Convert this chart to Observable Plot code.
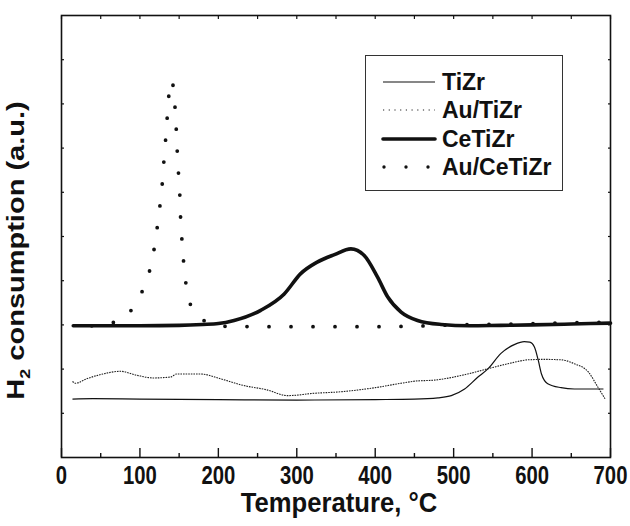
<!DOCTYPE html>
<html><head><meta charset="utf-8">
<script src="https://cdn.jsdelivr.net/npm/d3@7"></script>
<script src="https://cdn.jsdelivr.net/npm/@observablehq/plot@0.6"></script>
<style>
body{margin:0;background:#fff;}
#wrap{position:relative;width:630px;height:526px;}
#legend{position:absolute;left:365px;top:55px;width:198px;height:136px;border:1.3px solid #333;box-sizing:border-box;background:#fff;}
#legend svg{position:absolute;left:0;top:0;}
</style>
</head><body>
<div id="wrap"><div id="legend"></div></div>
<script>
// ---- data (temperature °C, H2 consumption a.u.) ----
const tizrT = [14, 40, 100, 200, 300, 400, 450, 480, 497, 514, 531, 544, 560, 578, 590, 597, 603, 608, 612, 620, 637, 654, 691];
const tizrV = [1.32, 1.33, 1.32, 1.31, 1.30, 1.31, 1.32, 1.35, 1.40, 1.55, 1.82, 2.01, 2.35, 2.56, 2.62, 2.61, 2.50, 2.19, 1.89, 1.67, 1.58, 1.55, 1.55];

const auTizrT = [14, 18, 32, 53, 75, 96, 117, 139, 147, 177, 203, 232, 262, 288, 300, 314, 358, 400, 433, 452, 475, 518, 544, 569, 595, 615, 637, 654, 672, 684, 693];
const auTizrV = [1.72, 1.68, 1.78, 1.89, 1.95, 1.86, 1.80, 1.82, 1.89, 1.89, 1.78, 1.63, 1.53, 1.40, 1.41, 1.44, 1.49, 1.58, 1.68, 1.73, 1.75, 1.89, 2.01, 2.12, 2.21, 2.22, 2.21, 2.12, 1.93, 1.59, 1.33];

const ceTizrT = [15, 50, 100, 150, 180, 200, 220, 254, 284, 305, 326, 348, 369, 386, 403, 416, 433, 454, 484, 520, 560, 600, 650, 700];
const ceTizrV = [2.98, 2.98, 2.98, 2.99, 3.01, 3.03, 3.10, 3.33, 3.70, 4.16, 4.42, 4.59, 4.72, 4.57, 4.08, 3.63, 3.29, 3.10, 3.01, 2.98, 2.99, 3.00, 3.02, 3.04];

const auCeTizrT = [15, 50, 76, 90.5, 102, 111, 117, 121, 124.7, 128, 130, 132.4, 134.5, 136.6, 139.5, 142.2, 144.8, 146.4, 147.7, 149.4, 151.2, 152, 154, 156.3, 159.2, 165.2, 178.4, 200, 250, 300, 350, 400, 450, 500, 550, 600, 650, 700];
const auCeTizrV = [2.98, 2.98, 3.10, 3.36, 3.72, 4.12, 4.59, 5.06, 5.57, 6.08, 6.58, 7.11, 7.62, 8.15, 8.54, 8.42, 7.91, 7.40, 6.88, 6.36, 5.84, 5.32, 4.81, 4.29, 3.85, 3.40, 3.12, 2.97, 2.96, 2.96, 2.96, 2.96, 2.97, 3.00, 3.01, 3.03, 3.05, 3.06];

const seriesNames = ["TiZr", "Au/TiZr", "CeTiZr", "Au/CeTiZr"];
const xTickLabels = [0, 100, 200, 300, 400, 500, 600, 700];
const xMinorTicks = [50, 150, 250, 350, 450, 550, 650];
const yTicks = [1, 2, 3, 4, 5, 6, 7, 8, 9];
const xLabel = "Temperature, °C";
const yLabel = "H2 consumption (a.u.)";

// ---- styles ----
const styles = {
  "TiZr": {strokeWidth: 1.2, dash: null, cap: "butt", stroke: "#111"},
  "Au/TiZr": {strokeWidth: 1.1, dash: "1.6 1", cap: "butt", stroke: "#222"},
  "CeTiZr": {strokeWidth: 3.6, dash: null, cap: "round", stroke: "#111"},
  "Au/CeTiZr": {strokeWidth: 3.8, dash: "0 22", cap: "round", stroke: "#111"}
};

const zip = (t, v) => t.map((d, i) => ({t: d, v: v[i]}));
const data = {
  "TiZr": zip(tizrT, tizrV),
  "Au/TiZr": zip(auTizrT, auTizrV),
  "CeTiZr": zip(ceTizrT, ceTizrV),
  "Au/CeTiZr": zip(auCeTizrT, auCeTizrV)
};

const lineMark = (name, curve) => Plot.line(data[name], {
  x: "t", y: "v", curve,
  stroke: styles[name].stroke, strokeWidth: styles[name].strokeWidth,
  strokeDasharray: styles[name].dash, strokeLinecap: styles[name].cap, strokeLinejoin: "round"
});

const font = "'Liberation Sans', Arial, Helvetica, sans-serif";

const chart = Plot.plot({
  width: 630, height: 526,
  marginLeft: 61, marginRight: 20, marginTop: 15, marginBottom: 69,
  x: {domain: [0, 700]},
  y: {domain: [0, 10]},
  style: {fontFamily: font, fontWeight: "bold", color: "#111", background: "white", overflow: "visible"},
  marks: [
    Plot.axisX({anchor: "bottom", ticks: xTickLabels, tickSize: -9, tickFormat: () => "", label: null, strokeWidth: 1.4}),
    Plot.axisX({anchor: "bottom", ticks: xMinorTicks, tickSize: -4, tickFormat: () => "", label: null, strokeWidth: 1.4}),
    Plot.axisX({anchor: "top", ticks: xTickLabels.concat(xMinorTicks), tickSize: -3, tickFormat: () => "", label: null, strokeWidth: 1.2}),
    Plot.axisY({anchor: "left", ticks: yTicks, tickSize: -3, tickFormat: () => "", label: null, strokeWidth: 1.2}),
    Plot.axisY({anchor: "right", ticks: yTicks, tickSize: -3, tickFormat: () => "", label: null, strokeWidth: 1.2}),
    lineMark("TiZr", "monotone-x"),
    lineMark("Au/TiZr", "monotone-x"),
    lineMark("Au/CeTiZr", "linear"),
    lineMark("CeTiZr", "monotone-x"),
    Plot.frame({stroke: "#111", strokeWidth: 1.6}),
    Plot.text(xTickLabels, {x: d => d, frameAnchor: "bottom", dy: 26, text: d => String(d), fontSize: 26, fontWeight: "bold", fill: "#111", textAnchor: "middle", lineAnchor: "middle"}),
    Plot.text([xLabel], {frameAnchor: "bottom", dy: 54, dx: 3, fontSize: 27, fontWeight: "bold", fill: "#111", textAnchor: "middle", lineAnchor: "middle"}),
    Plot.text([yLabel], {frameAnchor: "left", dx: -38, dy: 14, rotate: -90, fontSize: 29, fontWeight: "bold", fill: "#111", textAnchor: "middle", lineAnchor: "middle"})
  ]
});

// horizontal squeeze of text (reference glyphs are narrower than Arial)
function squeeze(el, sx, sy) {
  const x = +el.getAttribute("x") || 0, y = +el.getAttribute("y") || 0;
  el.removeAttribute("x"); el.removeAttribute("y");
  const tr = el.getAttribute("transform") || "";
  el.setAttribute("transform", `${tr} translate(${x},${y}) scale(${sx},${sy})`);
}
const tickStrings = xTickLabels.map(String);
d3.select(chart).selectAll("text").each(function () {
  const s = this.textContent;
  if (tickStrings.includes(s)) squeeze(this, 0.78, 1);
  else if (s === xLabel) squeeze(this, 0.95, 1);
  else if (s === yLabel) {
    const t = d3.select(this);
    t.text("");
    t.append("tspan").text("H");
    t.append("tspan").attr("font-size", 18).attr("dy", 8).text("2");
    t.append("tspan").attr("dy", -8).text(" consumption (a.u.)");
    squeeze(this, 1, 0.85);
  }
});

document.getElementById("wrap").prepend(chart);

// place the Au/CeTiZr dot pattern so the dots straddle the apex as in the reference
(function () {
  const path = Array.from(chart.querySelectorAll("path")).find(p => {
    const g = p.closest("g");
    return (p.getAttribute("stroke-dasharray") || (g && g.getAttribute("stroke-dasharray")) || "").replace(/,/g, " ").trim() === "0 22";
  });
  if (!path || !path.getTotalLength) return;
  const L = path.getTotalLength();
  let best = 0, bestY = Infinity;
  for (let s = 0; s <= L; s += 0.25) {
    const p = path.getPointAtLength(s);
    if (p.y < bestY) { bestY = p.y; best = s; }
  }
  const period = 22, target = best + 5.5;
  path.setAttribute("stroke-dashoffset", ((period - (target % period)) % period).toFixed(2));
})();

// legend
const leg = d3.select("#legend");
const rowY = [26, 54, 83, 111];
const lsvg = leg.append("svg").attr("width", 198).attr("height", 136);
seriesNames.forEach((name, i) => {
  const s = styles[name];
  const dashLegend = name === "Au/TiZr" ? "1.2 4.5" : s.dash;
  lsvg.append("line").attr("x1", name === "Au/CeTiZr" ? 18 : 17).attr("x2", 69).attr("y1", rowY[i]).attr("y2", rowY[i])
    .attr("stroke", s.stroke).attr("stroke-width", name === "Au/CeTiZr" ? 3.4 : s.strokeWidth)
    .attr("stroke-dasharray", dashLegend).attr("stroke-linecap", s.cap);
  lsvg.append("text").attr("x", 76).attr("y", rowY[i]).attr("dy", "0.36em")
    .attr("font-family", font).attr("font-weight", "bold").attr("font-size", 23).attr("fill", "#111").text(name);
});
</script>
</body></html>
